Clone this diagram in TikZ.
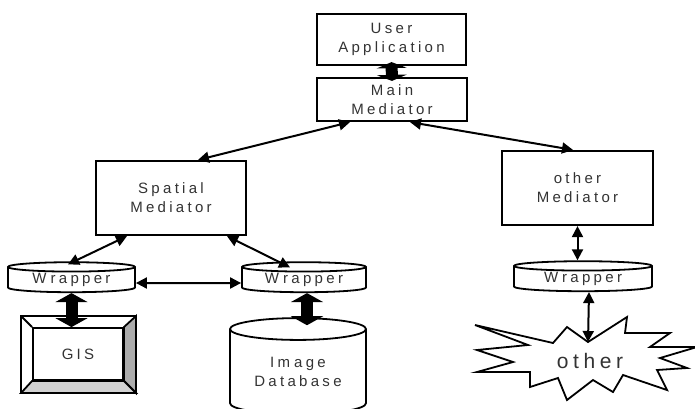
\documentclass[tikz,border=0pt]{standalone}
\usepackage{fontspec}
\setmainfont[LetterSpace=22]{Liberation Sans}
\usetikzlibrary{arrows.meta,shapes.geometric,positioning}

\begin{document}
\begin{tikzpicture}[x=1pt,y=-1pt,
    box/.style={draw,line width=2.2pt,inner sep=0pt,align=center,text=black!80,
      font=\fontsize{15}{19}\selectfont},
    wrapbox/.style={draw,line width=1.8pt,cylinder,shape border rotate=90,aspect=0.12,
      inner sep=0pt,align=center,text=black!80,font=\fontsize{15}{19}\selectfont},
    link/.style={{Triangle[length=11pt,width=11pt]}-{Triangle[length=11pt,width=11pt]},line width=2pt},
    fat/.style={{Triangle[length=9pt,width=32pt]}-{Triangle[length=9pt,width=32pt]},line width=12pt}]
  \useasboundingbox (0,0) rectangle (695,408);

  % mediators
  \node[box,minimum width=149pt,minimum height=51pt] (user) at (391.5,39.5) {User\\Application};
  \node[box,minimum width=150pt,minimum height=43pt] (main) at (392,99.5) {Main\\Mediator};
  \node[box,minimum width=150pt,minimum height=74pt] (spatial) at (171,198) {Spatial\\Mediator};
  \node[box,minimum width=151pt,minimum height=74pt] (otherm) at (577.5,188) {other\\Mediator};

  % wrappers
  \node[wrapbox,minimum width=127pt,minimum height=30pt] (wrapL) at (71.5,280) {W\kern4pt rapper};
  \node[wrapbox,minimum width=124pt,minimum height=30pt] (wrapM) at (304,280) {W\kern4pt rapper};
  \node[wrapbox,minimum width=138pt,minimum height=30pt] (wrapR) at (583,279) {W\kern4pt rapper};

  % sources
  \node[draw,line width=1.8pt,minimum width=90pt,minimum height=52pt,text=black!80,
    font=\fontsize{15}{19}\selectfont] (gis) at (78,354) {GIS};
  \path (gis.north west) ++(-11,-11) coordinate (gisA);
  \path (gis.north east) ++(12,-11) coordinate (gisB);
  \path (gis.south east) ++(12,12) coordinate (gisC);
  \path (gis.south west) ++(-11,12) coordinate (gisD);
  \draw[line width=1.8pt,fill=gray!65] (gis.north east) -- (gisB) -- (gisC) -- (gis.south east) -- cycle;
  \draw[line width=1.8pt,fill=gray!35] (gis.south west) -- (gis.south east) -- (gisC) -- (gisD) -- cycle;
  \draw[line width=1.8pt] (gisA) rectangle (gisC);
  \draw[line width=1.8pt] (gisA) -- (gis.north west);

  \node[wrapbox,aspect=0.25,minimum width=136pt,minimum height=96pt] (db) at (298,372) {Im\kern4pt age\\Database};

  \draw[line width=1.8pt,fill=white,line join=miter]
    (567,327) -- (588,342) -- (627,317) -- (625,333) -- (670,333) -- (650,347)
    -- (697,347) -- (660,358) -- (687,368) -- (657,370) -- (667,390) -- (623,375)
    -- (613,392) -- (593,380) -- (567,400) -- (558,378) -- (530,387) -- (530,372)
    -- (477,372) -- (513,362) -- (477,350) -- (528,345) -- (475,325) -- (553,343) -- cycle;
  \node[text=black!80,font=\fontsize{21}{24}\selectfont] (other) at (590,361) {other};
  \coordinate (burst) at (588,342);

  % connections
  \draw[fat,{Triangle[length=6pt,width=30pt]}-{Triangle[length=6pt,width=30pt]}]
    ([yshift=4pt]user.south) -- ([yshift=-4pt]main.north);
  \draw[link] ([xshift=-42pt]main.south) -- ([xshift=27pt]spatial.north);
  \draw[link] ([xshift=18pt]main.south) -- ([xshift=-4.5pt]otherm.north);
  \draw[link] ([xshift=-44pt]spatial.south) -- ([xshift=-3.5pt,yshift=-3pt]wrapL.north);
  \draw[link] ([xshift=56pt]spatial.south) -- ([xshift=-14pt,yshift=-6pt]wrapM.north);
  \draw[link] ([yshift=-3pt]wrapL.east) -- ([yshift=-3pt]wrapM.west);
  \draw[fat] (wrapL.south) -- (wrapL.south |- gis.north);
  \draw[fat] ([xshift=3pt]wrapM.south) -- ([xshift=3pt,yshift=-8pt]wrapM.south |- db.north);
  \draw[link] (otherm.south) -- (otherm.south |- wrapR.north);
  \draw[link] ([xshift=6pt]wrapR.south) -- (burst);
\end{tikzpicture}
\end{document}
